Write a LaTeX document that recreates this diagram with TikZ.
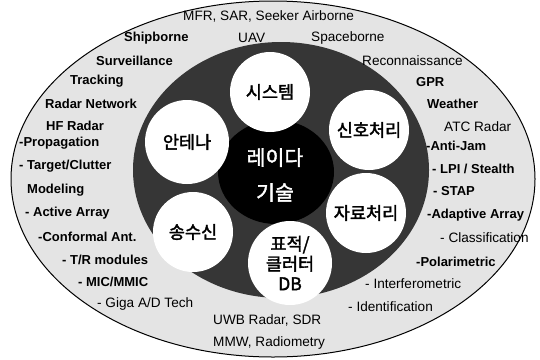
\documentclass[tikz,border=0pt]{standalone}
\usepackage{fontspec}
\setmainfont{Liberation Sans}
\newfontfamily\kr{Noto Sans CJK KR}[FakeBold=2]
\usetikzlibrary{shapes.geometric}
\definecolor{ringgray}{HTML}{E4E4E4}
\definecolor{darkgray}{HTML}{363636}
\begin{document}
\begin{tikzpicture}[x=1pt,y=-1pt,
  lb/.style={anchor=west, inner sep=0pt, font=\fontsize{13}{15}\selectfont\bfseries},
  lr/.style={anchor=west, inner sep=0pt, font=\fontsize{13.6}{15}\selectfont},
  wc/.style={circle, fill=white, minimum size=80pt, inner sep=0pt, align=center,
     font=\kr\fontsize{17.5}{21}\selectfont}]
\useasboundingbox (0,0) rectangle (540,359);
\fill[white] (0,0) rectangle (540,359);
% rings
\node[ellipse, draw=black, line width=1pt, fill=ringgray, minimum width=524pt, minimum height=356pt, inner sep=0pt] (outer) at (273,179) {};
\node[ellipse, fill=darkgray, minimum width=296pt, minimum height=256pt, inner sep=0pt] (dark) at (281,170) {};
\node[ellipse, fill=black, minimum width=116pt, minimum height=104pt, inner sep=0pt] (core) at (276,172) {};
% white circles
\node[wc] (sys) at (270,92) {시스템};
\node[wc] (sig) at (369,130) {신호처리};
\node[wc] (dat) at (366,213) {자료처리};
\node[wc, minimum size=84pt] (db) at (290,263) {표적/\\[-1pt]클러터\\[-1pt]DB};
\node[wc] (trx) at (193,232) {송수신};
\node[wc, minimum size=84pt] (ant) at (187,142) {안테나};
\node[text=white, align=center, inner sep=0pt, font=\kr\fontsize{20.5}{35}\selectfont] (radar) at (275,175) {레이다\\기술};
% left labels
\node[lr] (t1) at (183,16) {MFR, SAR, Seeker Airborne};
\node[lb] (t2) at (124,38) {Shipborne};
\node[lr] (t3) at (238,38) {UAV};
\node[lr] (t4) at (311,38) {Spaceborne};
\node[lb] (t5) at (96,61) {Surveillance};
\node[lb] (t6) at (70,81) {Tracking};
\node[lb] (t7) at (45,104) {Radar Network};
\node[lb] (t8) at (46,126) {HF Radar};
\node[lb] (t9) at (19,143) {-Propagation};
\node[lb] (t10) at (19,166) {- Target/Clutter};
\node[lb] (t11) at (27,190) {Modeling};
\node[lb] (t12) at (25,213) {- Active Array};
\node[lb] (t13) at (38,237) {-Conformal Ant.};
\node[lb] (t14) at (62,260) {- T/R modules};
\node[lb] (t15) at (78,282) {- MIC/MMIC};
\node[lr] (t16) at (97,304) {- Giga A/D Tech};
\node[lr] (t17) at (213,320) {UWB Radar, SDR};
\node[lr] (t18) at (213,343) {MMW, Radiometry};
% right labels
\node[lr] (r1) at (362,61) {Reconnaissance};
\node[lb] (r2) at (416,82) {GPR};
\node[lb] (r3) at (427,104) {Weather};
\node[lr] (r4) at (444,127) {ATC Radar};
\node[lb] (r5) at (426,146) {-Anti-Jam};
\node[lb] (r6) at (432,169) {- LPI / Stealth};
\node[lb] (r7) at (433,191) {- STAP};
\node[lb] (r8) at (427,215) {-Adaptive Array};
\node[lr] (r9) at (440,238) {- Classification};
\node[lb] (r10) at (416,262) {-Polarimetric};
\node[lr] (r11) at (365,284) {- Interferometric};
\node[lr] (r12) at (348,307) {- Identification};
\end{tikzpicture}
\end{document}
